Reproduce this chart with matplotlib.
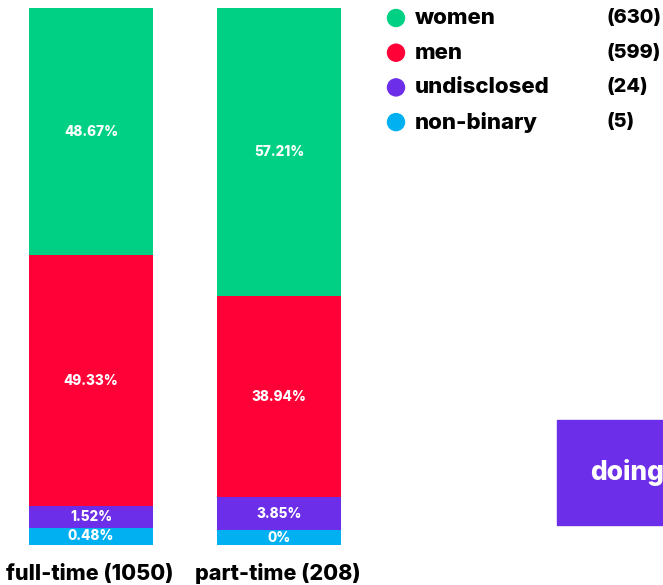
import matplotlib.pyplot as plt
from matplotlib.patches import Rectangle, Circle
import numpy as np

# share of each group per contract type (percent)
kategoriat = ['women', 'men', 'undisclosed', 'non-binary']
maarat = [630, 599, 24, 5]
tyypit = ['full-time (1050)', 'part-time (208)']
osuudet = {
    'full-time (1050)': [48.67, 49.33, 1.52, 0.48],
    'part-time (208)': [57.21, 38.94, 3.85, 0.0],
}
varit = ['#00d084', '#ff0037', '#6c2ee8', '#00b0f0']

# every segment gets a little extra height so tiny shares stay readable
lisa = 3.1

plt.rcParams['font.family'] = ['Inter', 'DejaVu Sans']
W, H = 663, 585
fig = plt.figure(figsize=(W/100, H/100), dpi=100)

ax = fig.add_axes([0, 40/H, 380/W, 537/H])
leveys = 124/188
for i, t in enumerate(tyypit):
    pohja = 0
    for k, p in enumerate(osuudet[t][::-1]):
        kk = len(kategoriat) - 1 - k
        h = p + lisa
        ax.bar(i, h, bottom=pohja, width=leveys, color=varit[kk], linewidth=0)
        ax.text(i, pohja + h/2, '%g%%' % p, ha='center', va='center',
                color='white', fontsize=9.8, fontweight='heavy')
        pohja += h
ax.set_xlim(-91/188, (380-91)/188)
ax.set_ylim(0, 100 + 4*lisa)
ax.axis('off')

# category labels under the bars
for i, t in enumerate(tyypit):
    x = (90 + 188*i)/W
    fig.text(x, 1 - 574/H, t, ha='center', va='center', fontsize=15.5, fontweight='heavy')

# legend drawn by hand
for k, (nimi, n) in enumerate(zip(kategoriat, maarat)):
    y = 1 - (18 + 34.7*k)/H
    fig.patches.append(Circle((396, y*H), 8.5, transform=None, color=varit[k]))
    fig.text(415/W, y, nimi, ha='left', va='center', fontsize=16, fontweight='heavy')
    fig.text(606/W, y, '(%d)' % n, ha='left', va='center', fontsize=14.3, fontweight='heavy')

# purple badge in the corner
fig.patches.append(Rectangle((557/W, 1 - 525/H), 120/W, 105/H,
                             transform=fig.transFigure, color='#6c2ee8'))
fig.text(590/W, 1 - 473/H, 'doing', ha='left', va='center', color='white',
         fontsize=19, fontweight='heavy')

fig.savefig('out.png', dpi=100)
